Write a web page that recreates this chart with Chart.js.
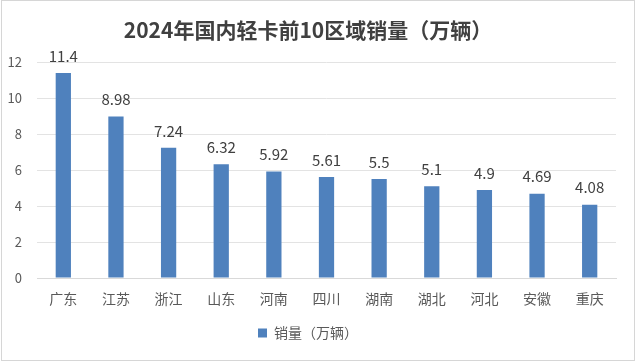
<!DOCTYPE html>
<html><head><meta charset="utf-8">
<script src="https://cdn.jsdelivr.net/npm/chart.js@4/dist/chart.umd.min.js"></script>
<style>
html,body{margin:0;padding:0;background:#fff;overflow:hidden;}
canvas{display:block;position:absolute;left:0;top:0;}
#frame{position:absolute;left:1px;top:0;width:634px;height:361px;box-sizing:border-box;border:1px solid #d6d6d6;pointer-events:none;}
</style></head>
<body><canvas id="c" width="637" height="364"></canvas><div id="frame"></div>
<script>
const categories = ['广东','江苏','浙江','山东','河南','四川','湖南','湖北','河北','安徽','重庆'];
const sales = [11.4, 8.98, 7.24, 6.32, 5.92, 5.61, 5.5, 5.1, 4.9, 4.69, 4.08];
const seriesName = '销量（万辆）';
const chartTitle = '2024年国内轻卡前10区域销量（万辆）';
const yTicks = [0, 2, 4, 6, 8, 10, 12];

const FONT = "'Noto Sans CJK SC', 'Noto Sans', sans-serif";

const labelPlugin = {
  id: 'valueLabels',
  afterDatasetsDraw(chart) {
    const ctx = chart.ctx;
    const meta = chart.getDatasetMeta(0);
    ctx.save();
    ctx.font = "15px " + FONT;
    ctx.fillStyle = '#404040';
    ctx.textAlign = 'center';
    ctx.textBaseline = 'middle';
    meta.data.forEach((bar, i) => {
      ctx.fillText(String(sales[i]), bar.x, bar.y - 17);
    });
    ctx.restore();
  }
};

new Chart(document.getElementById('c'), {
  type: 'bar',
  data: {
    labels: categories,
    datasets: [{
      label: seriesName,
      data: sales,
      backgroundColor: '#4f81bd',
      barPercentage: 0.58,
      categoryPercentage: 0.5
    }]
  },
  options: {
    responsive: false,
    animation: false,
    devicePixelRatio: 1,
    layout: { padding: { left: 0, right: 21, top: 0, bottom: 14 } },
    plugins: {
      title: {
        display: true,
        text: chartTitle,
        color: '#404040',
        font: { family: FONT, size: 21, weight: 'bold' },
        padding: { top: 17, bottom: 20 }
      },
      legend: {
        display: true,
        position: 'bottom',
        labels: {
          color: '#595959',
          font: { family: FONT, size: 14 },
          boxWidth: 9, boxHeight: 9,
          padding: 8
        }
      },
      tooltip: { enabled: false }
    },
    scales: {
      x: {
        grid: { display: false, drawTicks: false },
        border: { color: '#d9d9d9' },
        ticks: { color: '#595959', font: { family: FONT, size: 14 }, padding: 12 },
        afterFit(axis) { axis.height = 40; }
      },
      y: {
        min: 0, max: 12,
        afterBuildTicks(axis) { axis.ticks = yTicks.map(v => ({ value: v })); },
        grid: { color: '#e3e3e3', drawTicks: false },
        border: { display: false },
        ticks: { color: '#595959', font: { family: FONT, size: 13 }, padding: 15 },
        afterFit(axis) { axis.width = 37; }
      }
    }
  },
  plugins: [labelPlugin]
});
</script></body></html>
